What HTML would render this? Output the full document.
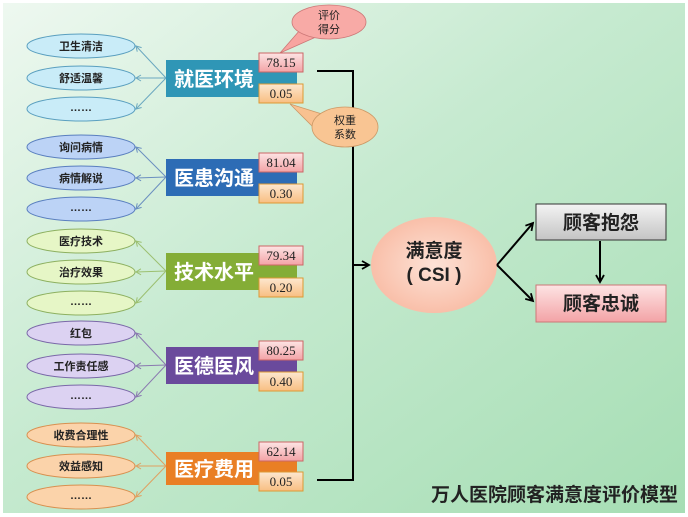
<!DOCTYPE html>
<html><head><meta charset="utf-8"><style>
body{margin:0;width:688px;height:517px;background:#fff;overflow:hidden}
svg{display:block}
text{font-family:"Liberation Sans","Noto Sans CJK SC",sans-serif}
text.n{font-family:"Liberation Serif",serif}
</style></head><body>
<svg width="688" height="517" viewBox="0 0 688 517" xmlns="http://www.w3.org/2000/svg">
<defs>
<linearGradient id="bg" x1="0" y1="0" x2="1" y2="1"><stop offset="0" stop-color="#eef8f0"/><stop offset="0.45" stop-color="#c6ead0"/><stop offset="1" stop-color="#a6deb4"/></linearGradient>
<radialGradient id="csi" cx="0.5" cy="0.5" r="0.6"><stop offset="0" stop-color="#fde2d6"/><stop offset="1" stop-color="#f8b8a0"/></radialGradient>
<linearGradient id="pink" x1="0" y1="0" x2="0" y2="1"><stop offset="0" stop-color="#fde4e4"/><stop offset="1" stop-color="#f3a3a6"/></linearGradient>
<linearGradient id="org" x1="0" y1="0" x2="0" y2="1"><stop offset="0" stop-color="#fde7cf"/><stop offset="1" stop-color="#f8be82"/></linearGradient>
<linearGradient id="gry" x1="0" y1="0" x2="0" y2="1"><stop offset="0" stop-color="#f4f4f4"/><stop offset="1" stop-color="#c4c4c4"/></linearGradient>
<marker id="ar" markerWidth="10" markerHeight="10" refX="8" refY="5" orient="auto" markerUnits="userSpaceOnUse"><path d="M1,1 L8,5 L1,9" fill="none" stroke="#000" stroke-width="1.8"/></marker>
<marker id="sa" markerWidth="8" markerHeight="8" refX="6" refY="4" orient="auto" markerUnits="userSpaceOnUse"><path d="M1,1 L6,4 L1,7" fill="none" stroke="context-stroke" stroke-width="1"/></marker>
</defs>
<rect x="3" y="3" width="682" height="510" fill="url(#bg)"/>

<path d="M317,71 H353 V480 H317" fill="none" stroke="#000" stroke-width="2"/>
<line x1="353" y1="265" x2="369" y2="265" stroke="#000" stroke-width="2" marker-end="url(#ar)"/>
<ellipse cx="434" cy="265" rx="63" ry="48" fill="url(#csi)"/>
<text x="434" y="257" font-size="19" font-weight="bold" text-anchor="middle" fill="#222">满意度</text>
<text x="434" y="281" font-size="19" font-weight="bold" text-anchor="middle" fill="#222">( CSI )</text>
<line x1="497" y1="265" x2="533" y2="223" stroke="#000" stroke-width="2" marker-end="url(#ar)"/>
<line x1="497" y1="265" x2="533" y2="301" stroke="#000" stroke-width="2" marker-end="url(#ar)"/>
<rect x="536" y="204" width="130" height="36" fill="url(#gry)" stroke="#333" stroke-width="1"/>
<text x="601" y="229" font-size="19" font-weight="bold" text-anchor="middle" fill="#222">顾客抱怨</text>
<line x1="600" y1="241" x2="600" y2="282" stroke="#000" stroke-width="2" marker-end="url(#ar)"/>
<rect x="536" y="285" width="130" height="37" fill="url(#pink)" stroke="#c77" stroke-width="1"/>
<text x="601" y="310" font-size="19" font-weight="bold" text-anchor="middle" fill="#222">顾客忠诚</text>

<path d="M300,30 L280,53 L316,37 Z" fill="#f8a4a0" stroke="#c77" stroke-width="0.8"/>
<ellipse cx="329" cy="22" rx="37" ry="17" fill="#f8aaa6" stroke="#c77" stroke-width="0.8"/>
<text x="329" y="19" font-size="11" text-anchor="middle" fill="#222">评价</text>
<text x="329" y="33" font-size="11" text-anchor="middle" fill="#222">得分</text>
<path d="M322,114 L290,104 L318,132 Z" fill="#f9c190" stroke="#c96" stroke-width="0.8"/>
<ellipse cx="345" cy="127" rx="33" ry="20" fill="#f9c593" stroke="#c96" stroke-width="0.8"/>
<text x="345" y="124" font-size="11" text-anchor="middle" fill="#222">权重</text>
<text x="345" y="138" font-size="11" text-anchor="middle" fill="#222">系数</text>

<text x="678" y="501" font-size="19" font-weight="bold" text-anchor="end" fill="#222">万人医院顾客满意度评价模型</text>

<g font-size="11" text-anchor="middle">
<g stroke="#6aa8c0" stroke-width="1" fill="none" marker-end="url(#sa)"><line x1="166" y1="78" x2="136" y2="46"/><line x1="166" y1="78" x2="136" y2="78"/><line x1="166" y1="78" x2="136" y2="109"/></g>
<g fill="#c9ecf8" stroke="#5a9fbf"><ellipse cx="81" cy="46" rx="54" ry="12"/><ellipse cx="81" cy="78" rx="54" ry="12"/><ellipse cx="81" cy="109" rx="54" ry="12"/></g>
<text x="81" y="50" fill="#222" font-weight="bold">卫生清洁</text><text x="81" y="82" fill="#222" font-weight="bold">舒适温馨</text><text x="81" y="111" fill="#222" font-weight="bold">……</text>
<rect x="166" y="60" width="131" height="37" fill="#2f96b6"/>
<text x="214" y="86" font-size="20" font-weight="bold" fill="#fff">就医环境</text>
<rect x="259" y="53" width="44" height="19" fill="url(#pink)" stroke="#c66"/><text class="n" x="281" y="67" font-size="13" fill="#222">78.15</text>
<rect x="259" y="84" width="44" height="19" fill="url(#org)" stroke="#d93"/><text class="n" x="281" y="98" font-size="13" fill="#222">0.05</text>

<g stroke="#6a8fc0" stroke-width="1" fill="none" marker-end="url(#sa)"><line x1="166" y1="177" x2="136" y2="147"/><line x1="166" y1="177" x2="136" y2="178"/><line x1="166" y1="177" x2="136" y2="209"/></g>
<g fill="#bcd3f6" stroke="#5a7fbf"><ellipse cx="81" cy="147" rx="54" ry="12"/><ellipse cx="81" cy="178" rx="54" ry="12"/><ellipse cx="81" cy="209" rx="54" ry="12"/></g>
<text x="81" y="151" fill="#222" font-weight="bold">询问病情</text><text x="81" y="182" fill="#222" font-weight="bold">病情解说</text><text x="81" y="211" fill="#222" font-weight="bold">……</text>
<rect x="166" y="159" width="131" height="37" fill="#2d6cb5"/>
<text x="214" y="185" font-size="20" font-weight="bold" fill="#fff">医患沟通</text>
<rect x="259" y="153" width="44" height="19" fill="url(#pink)" stroke="#c66"/><text class="n" x="281" y="167" font-size="13" fill="#222">81.04</text>
<rect x="259" y="184" width="44" height="19" fill="url(#org)" stroke="#d93"/><text class="n" x="281" y="198" font-size="13" fill="#222">0.30</text>

<g stroke="#9cc070" stroke-width="1" fill="none" marker-end="url(#sa)"><line x1="166" y1="271" x2="136" y2="241"/><line x1="166" y1="271" x2="136" y2="272"/><line x1="166" y1="271" x2="136" y2="303"/></g>
<g fill="#e6f6c6" stroke="#8db060"><ellipse cx="81" cy="241" rx="54" ry="12"/><ellipse cx="81" cy="272" rx="54" ry="12"/><ellipse cx="81" cy="303" rx="54" ry="12"/></g>
<text x="81" y="245" fill="#222" font-weight="bold">医疗技术</text><text x="81" y="276" fill="#222" font-weight="bold">治疗效果</text><text x="81" y="305" fill="#222" font-weight="bold">……</text>
<rect x="166" y="253" width="131" height="37" fill="#84ad36"/>
<text x="214" y="279" font-size="20" font-weight="bold" fill="#fff">技术水平</text>
<rect x="259" y="246" width="44" height="19" fill="url(#pink)" stroke="#c66"/><text class="n" x="281" y="260" font-size="13" fill="#222">79.34</text>
<rect x="259" y="278" width="44" height="19" fill="url(#org)" stroke="#d93"/><text class="n" x="281" y="292" font-size="13" fill="#222">0.20</text>

<g stroke="#8a78b0" stroke-width="1" fill="none" marker-end="url(#sa)"><line x1="166" y1="365" x2="136" y2="333"/><line x1="166" y1="365" x2="136" y2="366"/><line x1="166" y1="365" x2="136" y2="397"/></g>
<g fill="#dcd2f2" stroke="#7a68a8"><ellipse cx="81" cy="333" rx="54" ry="12"/><ellipse cx="81" cy="366" rx="54" ry="12"/><ellipse cx="81" cy="397" rx="54" ry="12"/></g>
<text x="81" y="337" fill="#222" font-weight="bold">红包</text><text x="81" y="370" fill="#222" font-weight="bold">工作责任感</text><text x="81" y="399" fill="#222" font-weight="bold">……</text>
<rect x="166" y="347" width="131" height="37" fill="#6a4a9c"/>
<text x="214" y="373" font-size="20" font-weight="bold" fill="#fff">医德医风</text>
<rect x="259" y="341" width="44" height="19" fill="url(#pink)" stroke="#c66"/><text class="n" x="281" y="355" font-size="13" fill="#222">80.25</text>
<rect x="259" y="372" width="44" height="19" fill="url(#org)" stroke="#d93"/><text class="n" x="281" y="386" font-size="13" fill="#222">0.40</text>

<g stroke="#e0a060" stroke-width="1" fill="none" marker-end="url(#sa)"><line x1="166" y1="466" x2="136" y2="435"/><line x1="166" y1="466" x2="136" y2="466"/><line x1="166" y1="466" x2="136" y2="497"/></g>
<g fill="#fbd3aa" stroke="#d89050"><ellipse cx="81" cy="435" rx="54" ry="12"/><ellipse cx="81" cy="466" rx="54" ry="12"/><ellipse cx="81" cy="497" rx="54" ry="12"/></g>
<text x="81" y="439" fill="#222" font-weight="bold">收费合理性</text><text x="81" y="470" fill="#222" font-weight="bold">效益感知</text><text x="81" y="499" fill="#222" font-weight="bold">……</text>
<rect x="166" y="452" width="131" height="33" fill="#e97f25"/>
<text x="214" y="476" font-size="20" font-weight="bold" fill="#fff">医疗费用</text>
<rect x="259" y="442" width="44" height="19" fill="url(#pink)" stroke="#c66"/><text class="n" x="281" y="456" font-size="13" fill="#222">62.14</text>
<rect x="259" y="472" width="44" height="19" fill="url(#org)" stroke="#d93"/><text class="n" x="281" y="486" font-size="13" fill="#222">0.05</text>
</g>
</svg>
</body></html>
